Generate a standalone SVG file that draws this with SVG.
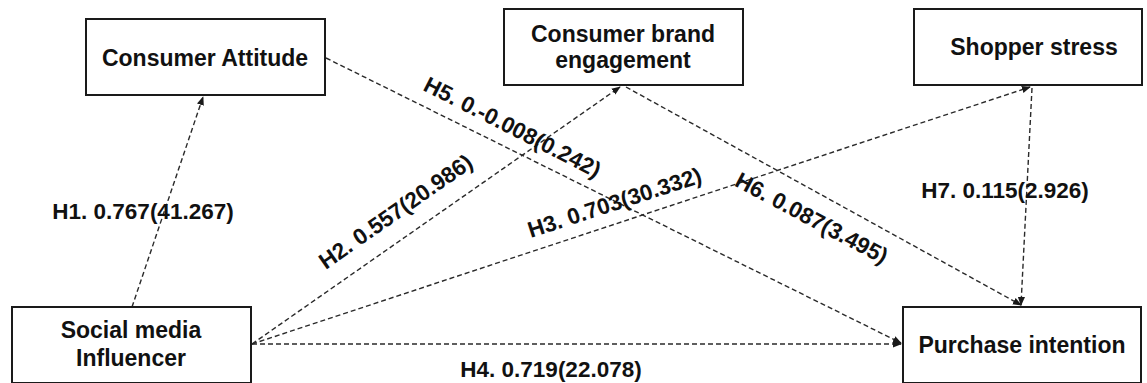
<svg xmlns="http://www.w3.org/2000/svg" width="1147" height="383" viewBox="0 0 1147 383">
<defs>
<style>
.box{fill:#fff;stroke:#1a1a1a;stroke-width:2}
.nt{font-family:"Liberation Sans",Arial,sans-serif;font-weight:bold;font-size:23px;fill:#111;text-anchor:middle}
.lb{font-family:"Liberation Sans",Arial,sans-serif;font-weight:bold;font-size:22.5px;fill:#111;text-anchor:middle}
.ln{fill:none;stroke:#2a2a2a;stroke-width:1.4;stroke-dasharray:5 3}
</style>
<marker id="ah" viewBox="0 0 10 10" refX="9" refY="5" markerWidth="9" markerHeight="9" markerUnits="userSpaceOnUse" orient="auto">
<path d="M0,1 L10,5 L0,9 Z" fill="#1a1a1a"/>
</marker>
</defs>
<rect width="1147" height="383" fill="#fff"/>
<g id="connectors">
<line class="ln" x1="132" y1="307" x2="203" y2="97" marker-end="url(#ah)"/>
<line class="ln" x1="252" y1="344" x2="620" y2="87" marker-end="url(#ah)"/>
<line class="ln" x1="252" y1="344" x2="1030" y2="87" marker-end="url(#ah)"/>
<line class="ln" x1="252" y1="344" x2="901" y2="344" marker-end="url(#ah)"/>
<line class="ln" x1="326" y1="58" x2="901" y2="343" marker-end="url(#ah)"/>
<line class="ln" x1="626" y1="87" x2="1021" y2="305" marker-end="url(#ah)"/>
<line class="ln" x1="1032" y1="88" x2="1021" y2="305" marker-end="url(#ah)"/>
</g>
<g id="n-attitude"><rect class="box" x="86" y="19" width="239" height="76"/><text class="nt" x="205" y="66">Consumer Attitude</text></g>
<g id="n-engagement"><rect class="box" x="504" y="9" width="239" height="76"/><text class="nt" x="623" y="42">Consumer brand</text><text class="nt" x="623" y="68">engagement</text></g>
<g id="n-stress"><rect class="box" x="914" y="9" width="228" height="76"/><text class="nt" x="1034" y="55">Shopper stress</text></g>
<g id="n-social"><rect class="box" x="12" y="307" width="239" height="76"/><text class="nt" x="131" y="338">Social media</text><text class="nt" x="131" y="366">Influencer</text></g>
<g id="n-purchase"><rect class="box" x="903" y="307" width="238" height="76"/><text class="nt" x="1022" y="353">Purchase intention</text></g>
<g id="labels">
<text class="lb" x="143" y="219">H1. 0.767(41.267)</text>
<text class="lb" transform="translate(400,218) rotate(-35)">H2. 0.557(20.986)</text>
<text class="lb" transform="translate(617,210) rotate(-18)">H3. 0.703(30.332)</text>
<text class="lb" x="551" y="377">H4. 0.719(22.078)</text>
<text class="lb" transform="translate(509,134) rotate(27)">H5. 0.-0.008(0.242)</text>
<text class="lb" transform="translate(808,225) rotate(28)">H6. 0.087(3.495)</text>
<text class="lb" x="1005" y="198">H7. 0.115(2.926)</text>
</g>
</svg>
